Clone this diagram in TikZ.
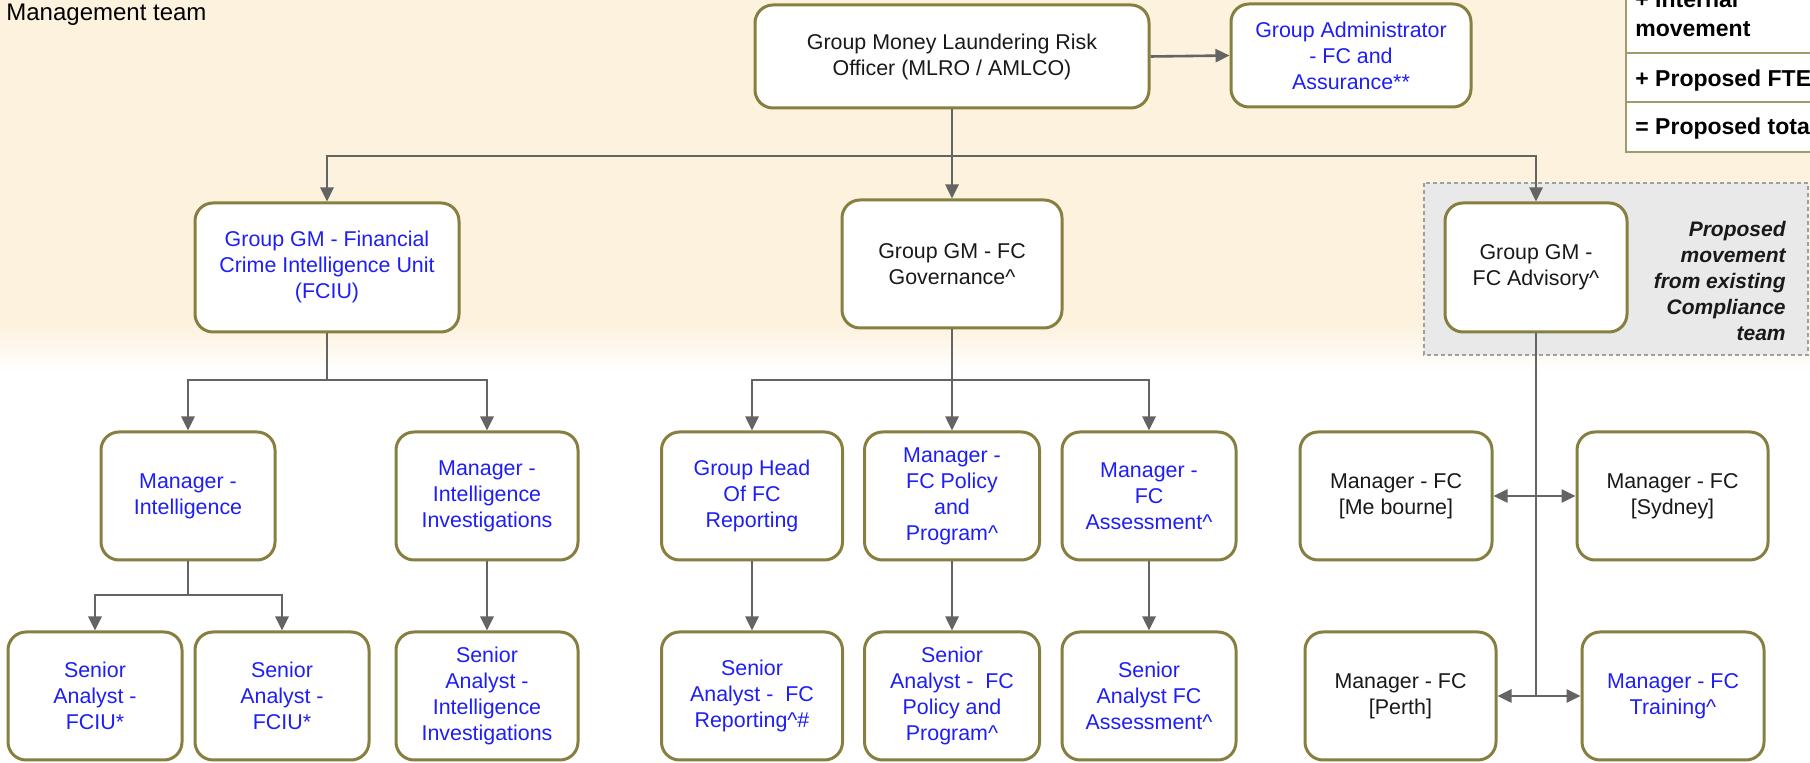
\documentclass[tikz,border=0pt]{standalone}
\usepackage{fontspec}
\setmainfont{Liberation Sans}
\usetikzlibrary{arrows.meta,calc}
\definecolor{olivebd}{RGB}{135,127,64}
\definecolor{conngray}{RGB}{100,100,100}
\definecolor{txtblue}{RGB}{30,30,245}
\definecolor{txtblack}{RGB}{25,25,25}
\definecolor{bgbeige}{RGB}{252,242,222}
\definecolor{regiongray}{RGB}{233,233,233}
\definecolor{legendline}{RGB}{160,155,110}
\begin{document}
\begin{tikzpicture}[x=0.5pt,y=-0.5pt,
  bx/.style={draw=olivebd, line width=1.5pt, rounded corners=9pt, fill=white, align=center, inner sep=1pt, font=\fontsize{10.7}{13}\selectfont},
  bl/.style={bx, text=txtblue},
  bk/.style={bx, text=txtblack},
  rowh/.style={minimum height=64pt},
  conn/.style={draw=conngray, line width=1.3pt},
  arr/.style={conn, -{Triangle[length=7pt,width=6.5pt]}},
  darr/.style={conn, {Triangle[length=7pt,width=6.5pt]}-{Triangle[length=7pt,width=6.5pt]}},
  lg/.style={font=\fontsize{11.5}{14}\selectfont\bfseries, anchor=base west, inner sep=0pt, text=black}
]
\useasboundingbox (0,0) rectangle (1810,763);
\begin{scope}
\clip (0,0) rectangle (1810,763);
% background
\fill[white] (0,0) rectangle (1810,763);
\fill[bgbeige] (0,0) rectangle (1810,325);
\shade[top color=bgbeige, bottom color=white] (0,325) rectangle (1810,372);

% title
\node[anchor=base west, inner sep=0pt, font=\fontsize{12}{14}\selectfont, text=black] (mt) at (6,21) {Management team};

% legend table
\draw[legendline, line width=0.8pt, fill=white] (1626,-10) rectangle (1830,152);
\draw[legendline, line width=0.8pt] (1626,53) -- (1830,53);
\draw[legendline, line width=0.8pt] (1626,102) -- (1830,102);
\node[lg] (lg1) at (1635,8) {+ Internal};
\node[lg] (lg2) at (1635,37) {movement};
\node[lg] (lg3) at (1635,87) {+ Proposed FTE};
\node[lg] (lg4) at (1635,135) {= Proposed total};

% proposed movement region
\draw[draw=gray!75, fill=regiongray, line width=0.6pt, dash pattern=on 2pt off 1.5pt] (1424,183) rectangle (1808,355);
\node[font=\fontsize{10.5}{13}\selectfont\bfseries\itshape, align=right, anchor=east, inner sep=0pt, text=txtblack] (pm) at (1786,281) {Proposed\\movement\\from existing\\Compliance\\team};

% level 0
\node[bk, minimum width=197pt, minimum height=51.5pt] (mlro) at (952,56.5) {Group Money Laundering Risk\\Officer (MLRO / AMLCO)};
\node[bl, minimum width=120pt, minimum height=51.5pt] (admin) at (1351,55.5) {Group Administrator\\- FC and\\Assurance**};

% level 1
\node[bl, minimum width=132pt, minimum height=64.5pt] (fciu) at (327,267.5) {\raisebox{-3pt}{\begin{tabular}{@{}c@{}}Group GM - Financial\\[0pt]Crime Intelligence Unit\\[0pt](FCIU)\end{tabular}}};
\node[bk, minimum width=110pt, minimum height=64pt] (gov) at (952,264) {Group GM - FC\\Governance\textasciicircum};
\node[bk, minimum width=91pt, minimum height=64.5pt] (adv) at (1536,267.5) {Group GM -\\FC Advisory\textasciicircum};

% level 2
\node[bl, rowh, minimum width=87pt] (mint) at (188,496) {Manager -\\Intelligence};
\node[bl, rowh, minimum width=91pt] (minv) at (487,496) {Manager -\\Intelligence\\Investigations};
\node[bl, rowh, minimum width=90.5pt] (ghr) at (752,496) {Group Head\\Of FC\\Reporting};
\node[bl, rowh, minimum width=87.5pt] (mpol) at (952,496) {Manager -\\FC Policy\\and\\Program\textasciicircum};
\node[bl, rowh, minimum width=87pt] (mass) at (1149,496) {Manager -\\FC\\Assessment\textasciicircum};
\node[bk, rowh, minimum width=96pt] (melb) at (1396,496) {Manager - FC\\{[}Me bourne]};
\node[bk, rowh, minimum width=95.5pt] (syd) at (1672.5,496) {Manager - FC\\{[}Sydney]};

% level 3
\node[bl, rowh, minimum width=87pt] (sa1) at (95,696) {Senior\\Analyst -\\FCIU*};
\node[bl, rowh, minimum width=87pt] (sa2) at (282,696) {Senior\\Analyst -\\FCIU*};
\node[bl, rowh, minimum width=91pt] (sainv) at (487,696) {Senior\\Analyst -\\Intelligence\\Investigations};
\node[bl, rowh, minimum width=90.5pt] (sarep) at (752,696) {Senior\\Analyst -~~FC\\Reporting\textasciicircum\#};
\node[bl, rowh, minimum width=87.5pt] (sapol) at (952,696) {Senior\\Analyst -~~FC\\Policy and\\Program\textasciicircum};
\node[bl, rowh, minimum width=87pt] (saass) at (1149,696) {Senior\\Analyst FC\\Assessment\textasciicircum};
\node[bk, rowh, minimum width=95.5pt] (perth) at (1400.5,696) {Manager - FC\\{[}Perth]};
\node[bl, rowh, minimum width=91pt] (train) at (1673,696) {Manager - FC\\Training\textasciicircum};

% bus coordinates
\coordinate (b0) at (952,156);
\coordinate (b1) at (327,380);
\coordinate (b2) at (952,380);
\coordinate (b3) at (188,595);
\coordinate (b4) at (1536,695);

% connectors
\draw[arr] (mlro.east) -- (admin.west);
\draw[conn] (mlro.south) -- (b0);
\draw[arr] (b0) -| (fciu.north);
\draw[arr] (b0) -- (gov.north);
\draw[arr] (b0) -| (adv.north);

\draw[conn] (fciu.south) -- (b1);
\draw[arr] (b1) -| (mint.north);
\draw[arr] (b1) -| (minv.north);

\draw[conn] (gov.south) -- (b2);
\draw[arr] (b2) -| (ghr.north);
\draw[arr] (b2) -- (mpol.north);
\draw[arr] (b2) -| (mass.north);

\draw[conn] (mint.south) -- (b3);
\draw[arr] (b3) -| (sa1.north);
\draw[arr] (b3) -| (sa2.north);

\draw[arr] (minv.south) -- (sainv.north);
\draw[arr] (ghr.south) -- (sarep.north);
\draw[arr] (mpol.south) -- (sapol.north);
\draw[arr] (mass.south) -- (saass.north);

\draw[conn] (adv.south) -- (b4);
\draw[darr] (melb.east) -- (syd.west);
\draw[darr] (perth.east) -- (train.west);
\end{scope}
\end{tikzpicture}
\end{document}
